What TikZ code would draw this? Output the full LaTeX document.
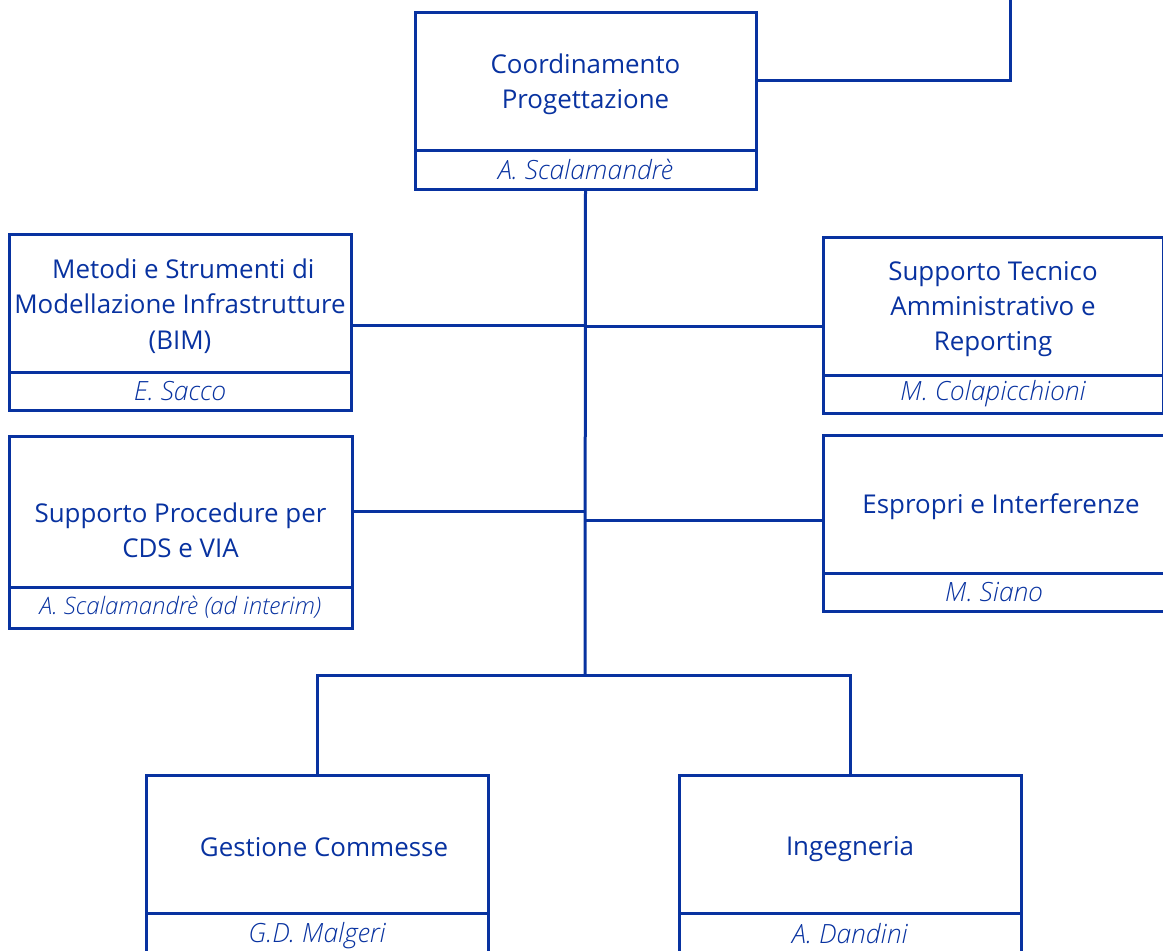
\documentclass[tikz,border=0pt]{standalone}
\usepackage{fontspec}
\setmainfont{Open Sans}
\newfontfamily\namefont{Open Sans Light Italic}
\definecolor{orgblue}{RGB}{8,50,160}
\begin{document}
\begin{tikzpicture}[x=1pt,y=-1pt,
  every node/.style={inner sep=0pt,outer sep=0pt},
  mainbox/.style={draw=orgblue,line width=3pt,anchor=north west,minimum height=138pt},
  maintext/.style={align=center,text=orgblue,font=\fontsize{25.9}{35.3}\selectfont},
  namebox/.style={draw=orgblue,line width=3pt,anchor=north west,minimum width=342pt},
  nametext/.style={text=orgblue,font=\fontsize{26.5}{30}\namefont},
  conn/.style={draw=orgblue,line width=3pt}]
\useasboundingbox (0,0) rectangle (1163,951);
% top
\node[mainbox,minimum width=341pt] (c) at (415,12) {};
\node[maintext] (ct) at ([yshift=-3pt]c.center) {Coordinamento\\Progettazione};
\node[namebox,minimum width=341pt,minimum height=39pt] (cn) at (c.south west) {};
\node[nametext] (cnt) at (cn.center) {A. Scalamandrè};
% left 1
\node[mainbox,minimum width=342pt] (m1) at (9,234) {};
\node[maintext] (m1t) at ([yshift=-3pt]m1.center) {\ Metodi e Strumenti di\\Modellazione Infrastrutture\\(BIM)};
\node[namebox,minimum height=38pt] (m1n) at (m1.south west) {};
\node[nametext] (m1nt) at (m1n.center) {E. Sacco};
% left 2
\node[mainbox,minimum width=343pt,minimum height=151pt] (m2) at (9,436) {};
\node[maintext] (m2t) at ([yshift=-19pt]m2.center) {Supporto Procedure per\\CDS e VIA};
\node[namebox,minimum width=343pt,minimum height=41pt] (m2n) at (m2.south west) {};
\node[nametext,font=\fontsize{24}{28}\namefont] (m2nt) at (m2n.center) {A. Scalamandrè (ad interim)};
% right 1
\node[mainbox,minimum width=340pt] (r1) at (823,237) {};
\node[maintext] (r1t) at ([yshift=-3pt]r1.center) {Supporto Tecnico\\Amministrativo e\\Reporting};
\node[namebox,minimum width=340pt,minimum height=38pt] (r1n) at (r1.south west) {};
\node[nametext] (r1nt) at (r1n.center) {M. Colapicchioni};
% right 2
\node[mainbox,minimum width=342pt] (r2) at (823,435) {};
\node[maintext] (r2t) at ([xshift=7pt,yshift=-3pt]r2.center) {Espropri e Interferenze};
\node[namebox,minimum height=38pt] (r2n) at (r2.south west) {};
\node[nametext] (r2nt) at (r2n.center) {M. Siano};
% bottom
\node[mainbox,minimum width=342pt] (b1) at (146,775) {};
\node[maintext] (b1t) at ([xshift=7pt,yshift=-3pt]b1.center) {Gestione Commesse};
\node[namebox,minimum height=42pt] (b1n) at (b1.south west) {};
\node[nametext] (b1nt) at ([yshift=-2pt]b1n.center) {G.D. Malgeri};
\node[mainbox,minimum width=342pt] (b2) at (679,775) {};
\node[maintext] (b2t) at ([yshift=-5pt]b2.center) {Ingegneria};
\node[namebox,minimum height=42pt] (b2n) at (b2.south west) {};
\node[nametext] (b2nt) at (b2n.center) {A. Dandini};
% connectors
\coordinate (topend) at (1010,0);
\coordinate (hub) at (585,675);
\draw[conn] (c.east |- 0,80) -| (topend);
\draw[conn] (cn.south) -- (hub);
\draw[conn] (m1.east |- 0,325) -- (hub |- 0,325);
\draw[conn] (r1.west |- 0,326) -- (hub |- 0,326);
\draw[conn] (m2.east |- 0,511) -- (hub |- 0,511);
\draw[conn] (r2.west |- 0,520) -- (hub |- 0,520);
\draw[conn] (b1.north) |- (hub) -| (b2.north);
\end{tikzpicture}
\end{document}
